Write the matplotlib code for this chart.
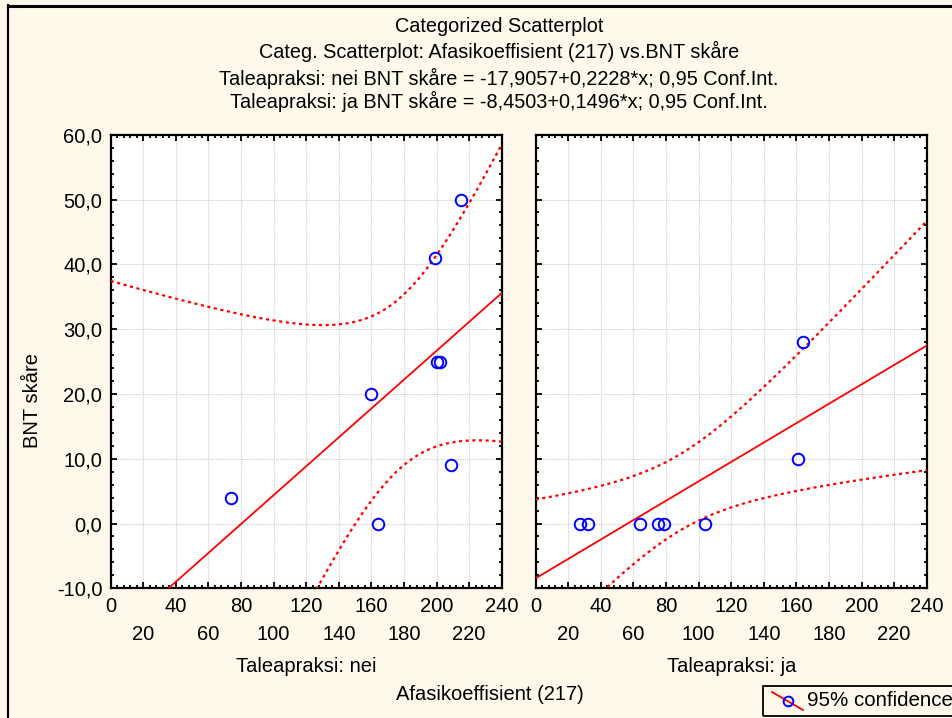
import numpy as np
import matplotlib
matplotlib.use("Agg")
import matplotlib.pyplot as plt
import matplotlib.ticker as ticker
from matplotlib.lines import Line2D
from matplotlib.patches import Rectangle

plt.rcParams["font.family"] = ["Liberation Sans", "DejaVu Sans"]

# Afasikoeffisient (217) vs BNT skåre, split by Taleapraksi
nei_x = [74, 160, 164, 209, 199, 215, 200, 202]
nei_y = [4, 20, 0, 9, 41, 50, 25, 25]
ja_x = [27, 32, 64, 75, 79, 104, 161, 164]
ja_y = [0, 0, 0, 0, 0, 0, 10, 28]

# fitted coefficients (intercept, slope)
nei_fit = (-17.9057, 0.2228)
ja_fit = (-8.4503, 0.1496)

panel_names = ["Taleapraksi: nei", "Taleapraksi: ja"]
x_ticks = list(range(0, 241, 20))
y_ticks = list(range(-10, 61, 10))

T_95_DF6 = 2.446912  # t quantile, 0.975, 6 df

W, H = 952, 718
BG = "#fff9ec"


def fx(px):
    return px / W


def fy(py):
    return 1 - py / H


def conf_band(xs, ys, coef, grid):
    xs = np.asarray(xs, float)
    ys = np.asarray(ys, float)
    b0, b1 = coef
    n = len(xs)
    resid = ys - (b0 + b1 * xs)
    s = np.sqrt(np.sum(resid ** 2) / (n - 2))
    sxx = np.sum((xs - xs.mean()) ** 2)
    se = s * np.sqrt(1.0 / n + (grid - xs.mean()) ** 2 / sxx)
    fit = b0 + b1 * grid
    return fit - T_95_DF6 * se, fit + T_95_DF6 * se


fig = plt.figure(figsize=(W / 100, H / 100), dpi=100, facecolor=BG)

titles = [
    ("Categorized Scatterplot", 27),
    ("Categ. Scatterplot: Afasikoeffisient (217) vs.BNT skåre", 51),
    ("Taleapraksi: nei BNT skåre = -17,9057+0,2228*x; 0,95 Conf.Int.", 78),
    ("Taleapraksi: ja BNT skåre = -8,4503+0,1496*x; 0,95 Conf.Int.", 101),
]
for txt, py in titles:
    fig.text(fx(499), fy(py), txt, ha="center", va="center", fontsize=14.3)

panels = [
    (nei_x, nei_y, nei_fit, 110.7),
    (ja_x, ja_y, ja_fit, 535.7),
]
grid = np.linspace(0, 240, 300)

for i, (xs, ys, coef, left) in enumerate(panels):
    ax = fig.add_axes([fx(left), fy(588.3), 391 / W, 453.6 / H])
    ax.set_facecolor("white")
    ax.set_xlim(0, 240)
    ax.set_ylim(-10, 60)

    lo, hi = conf_band(xs, ys, coef, grid)
    ax.plot(grid, coef[0] + coef[1] * grid, color="#ff0000", lw=1.3, zorder=3)
    ax.plot(grid, lo, color="#ff0000", lw=1.6, ls=(0, (1.4, 1.6)), zorder=3)
    ax.plot(grid, hi, color="#ff0000", lw=1.6, ls=(0, (1.4, 1.6)), zorder=3)
    ax.plot(xs, ys, ls="none", marker="o", ms=8.3, mfc="none",
            mec="#0000ff", mew=1.4, zorder=4)

    ax.set_xticks(x_ticks)
    ax.set_xticklabels([str(v) if v % 40 == 0 else "\n" + str(v) for v in x_ticks])
    for lab in ax.get_xticklabels():
        lab.set_linespacing(1.6)
    ax.xaxis.set_minor_locator(ticker.MultipleLocator(4))
    ax.set_yticks(y_ticks)
    ax.yaxis.set_minor_locator(ticker.MultipleLocator(2))
    if i == 0:
        ax.set_yticklabels([f"{v:.1f}".replace(".", ",") for v in y_ticks])
    else:
        ax.set_yticklabels([])

    ax.tick_params(which="both", direction="in", top=True, right=True,
                   width=1.3, labelsize=14.5, pad=6)
    ax.tick_params(which="major", length=4.5)
    ax.tick_params(which="minor", length=2.5)
    ax.grid(True, which="major", color="#cccccc", lw=0.8, ls=(0, (1, 1)))
    ax.set_axisbelow(True)
    for sp in ax.spines.values():
        sp.set_linewidth(1.6)
        sp.set_color("black")

    fig.text(fx(left + 195.5), fy(667), panel_names[i], ha="center",
             va="center", fontsize=14.5)

fig.text(fx(490), fy(695), "Afasikoeffisient (217)", ha="center",
         va="center", fontsize=14.5)
fig.text(fx(33), fy(400), "BNT skåre", ha="center", va="center",
         rotation=90, fontsize=14.5)

# legend box in the lower right corner
fig.patches.append(Rectangle((fx(762.5), fy(716)), fx(200), 30 / H,
                             transform=fig.transFigure, fill=False,
                             ec="black", lw=1.3))
fig.lines.append(Line2D([fx(772), fx(803)], [fy(692), fy(710)],
                        transform=fig.transFigure, color="#ff0000", lw=1.3))
fig.lines.append(Line2D([fx(788)], [fy(701)], transform=fig.transFigure,
                        ls="none", marker="o", ms=7, mfc="none",
                        mec="#0000ff", mew=1.4))
fig.text(fx(807), fy(701), "95% confidence", ha="left", va="center",
         fontsize=14.8)

# outer frame on the top and left edges
fig.lines.append(Line2D([fx(8), 1], [fy(5.5), fy(5.5)],
                        transform=fig.transFigure, color="black", lw=2.2))
fig.lines.append(Line2D([fx(8), fx(8)], [fy(5), 0],
                        transform=fig.transFigure, color="black", lw=1.6))

fig.savefig("out.png", dpi=100, facecolor=BG)
